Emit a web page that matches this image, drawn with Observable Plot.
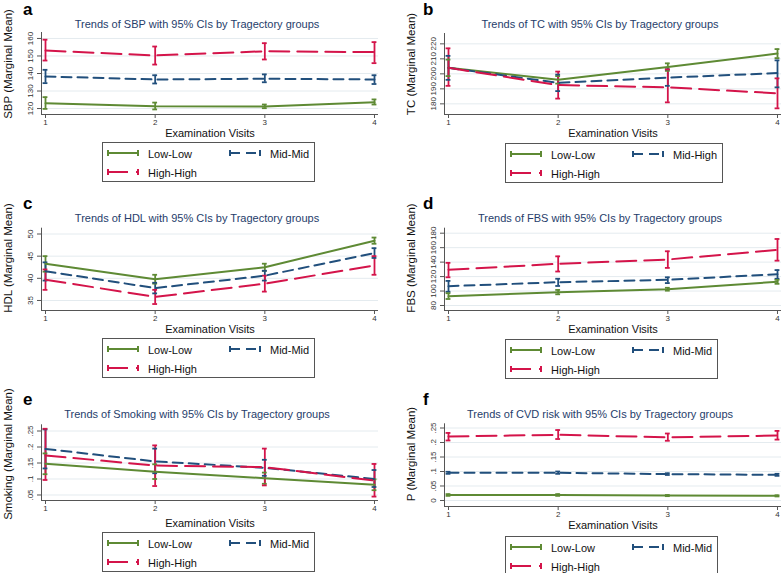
<!DOCTYPE html>
<html><head><meta charset="utf-8">
<script src="https://cdn.jsdelivr.net/npm/d3@7"></script>
<script src="https://cdn.jsdelivr.net/npm/@observablehq/plot@0.6"></script>
<style>
html,body{margin:0;padding:0;background:#fff;}
body{width:782px;height:573px;overflow:hidden;position:relative;font-family:"Liberation Sans",Arial,sans-serif;}
.panel{position:absolute;width:391px;height:196px;}
.panel svg{position:absolute;left:0;top:0;overflow:visible;}
.letter{position:absolute;font-weight:bold;font-size:17px;line-height:16px;color:#000;}
.title{position:absolute;left:0;width:394px;text-align:center;font-size:11px;line-height:14px;color:#263d6b;white-space:nowrap;}
.ylab{position:absolute;font-size:11.5px;line-height:13px;color:#111;white-space:nowrap;transform:translate(-50%,-50%) rotate(-90deg);}
.xlab{position:absolute;width:200px;text-align:center;font-size:11px;line-height:14px;color:#111;white-space:nowrap;}
.legend{position:absolute;border:1px solid #555;box-sizing:border-box;height:40px;background:#fff;}
.legend .g{position:absolute;}
.legend .t{position:absolute;font-size:11px;line-height:14px;color:#111;white-space:nowrap;}
</style>
</head><body>
<script>
// ---------- data ----------
const visits = [1, 2, 3, 4];
const groupsMM = ["Low-Low", "Mid-Mid", "High-High"];
const groupsMH = ["Low-Low", "Mid-High", "High-High"];

// SBP
const sbpMean = [[123.0, 121.3, 121.1, 123.6], [138.3, 136.6, 137.0, 136.6], [153.1, 150.3, 152.7, 152.2]];
const sbpLo   = [[119.8, 119.5, 120.2, 122.3], [134.5, 134.3, 135.0, 134.0], [147.4, 145.1, 148.0, 145.9]];
const sbpHi   = [[126.5, 123.4, 122.3, 125.2], [142.1, 139.0, 139.5, 139.0], [159.3, 155.4, 157.3, 157.9]];
const sbpTicks = [120, 130, 140, 150, 160];

// TC
const tcMean = [[204, 196, 204.5, 213.5], [204, 194, 197.5, 200.5], [204, 192.5, 191, 187]];
const tcLo   = [[198.5, 193.5, 202, 210.5], [196, 188.5, 192, 191], [192, 183.5, 181, 177]];
const tcHi   = [[209.5, 198.5, 207, 216.5], [212, 199.5, 203, 209], [217, 201.5, 203, 197]];
const tcTicks = [180, 190, 200, 210, 220];

// HDL
const hdlMean = [[43.3, 39.8, 42.5, 48.5], [41.6, 37.8, 40.6, 45.7], [39.7, 35.8, 38.8, 42.9]];
const hdlLo   = [[41.5, 38.8, 41.7, 47.8], [39.5, 36.6, 39.5, 44.6], [37.4, 34.2, 37.0, 40.8]];
const hdlHi   = [[45.0, 40.8, 43.3, 49.2], [43.6, 39.0, 41.7, 46.8], [42.0, 37.4, 40.6, 45.0]];
const hdlTicks = [35, 40, 45, 50];

// FBS
const fbsMean = [[92.9, 98.4, 102.6, 112.8], [106.7, 112.2, 115.5, 123.3], [129.4, 137.7, 143.6, 157]];
const fbsLo   = [[89, 95.5, 100.5, 110], [99, 107, 111, 117], [119, 127, 132, 142]];
const fbsHi   = [[97, 101.5, 104.5, 115.5], [114, 117, 119, 129], [139, 148, 155, 172]];
const fbsTicks = [80, 100, 120, 140, 160, 180];

// Smoking
const smkMean = [[0.1475, 0.123, 0.1025, 0.082], [0.194, 0.155, 0.135, 0.100], [0.1735, 0.142, 0.137, 0.095]];
const smkLo   = [[0.115, 0.100, 0.085, 0.065], [0.133, 0.118, 0.110, 0.075], [0.097, 0.078, 0.080, 0.045]];
const smkHi   = [[0.180, 0.146, 0.120, 0.099], [0.255, 0.195, 0.160, 0.128], [0.257, 0.205, 0.195, 0.147]];
const smkTicks = [0.05, 0.1, 0.15, 0.2, 0.25];
const smkTickLabels = [".05", ".1", ".15", ".2", ".25"];

// CVD risk
const cvdMean = [[0.019, 0.019, 0.017, 0.016], [0.0955, 0.0955, 0.091, 0.0885], [0.2207, 0.2265, 0.218, 0.224]];
const cvdLo   = [[0.016, 0.016, 0.015, 0.014], [0.092, 0.092, 0.088, 0.085], [0.207, 0.212, 0.206, 0.210]];
const cvdHi   = [[0.022, 0.022, 0.019, 0.018], [0.099, 0.100, 0.094, 0.092], [0.233, 0.243, 0.231, 0.240]];
const cvdTicks = [0, 0.05, 0.1, 0.15, 0.2, 0.25];
const cvdTickLabels = ["0", ".05", ".1", ".15", ".2", ".25"];

// ---------- styles ----------
const colors = ["#5e8a34", "#214f7c", "#d4144a"];
const dashes = [null, "10,6", "20,8"];
const font = "Liberation Sans, Arial, sans-serif";

const panels = [
  {letter:"a", left:0, top:0, letterX:23, title:"Trends of SBP with 95% CIs by Tragectory groups", ylab:"SBP (Marginal Mean)",
   groups:groupsMM, mean:sbpMean, lo:sbpLo, hi:sbpHi, ticks:sbpTicks, tickLabels:sbpTicks.map(String),
   domain:[116.6, 163.4], plotTop:32, plotBottom:114, xTitleY:133, legendTop:142, legendW:213},
  {letter:"b", left:403, top:0, letterX:20, title:"Trends of TC with 95% CIs by Tragectory groups", ylab:"TC (Marginal Mean)",
   groups:groupsMH, mean:tcMean, lo:tcLo, hi:tcHi, ticks:tcTicks, tickLabels:tcTicks.map(String),
   domain:[172.9, 226.9], plotTop:33, plotBottom:114, xTitleY:133, legendTop:143, legendW:218},
  {letter:"c", left:0, top:194, letterX:23, title:"Trends of HDL with 95% CIs by Tragectory groups", ylab:"HDL (Marginal Mean)",
   groups:groupsMM, mean:hdlMean, lo:hdlLo, hi:hdlHi, ticks:hdlTicks, tickLabels:hdlTicks.map(String),
   domain:[32.74, 51.31], plotTop:33.7, plotBottom:116, xTitleY:135, legendTop:144, legendW:213},
  {letter:"d", left:403, top:194, letterX:20, title:"Trends of FBS with 95% CIs by Tragectory groups", ylab:"FBS (Marginal Mean)",
   groups:groupsMM, mean:fbsMean, lo:fbsLo, hi:fbsHi, ticks:fbsTicks, tickLabels:fbsTicks.map(String),
   domain:[73.08, 186.92], plotTop:33.7, plotBottom:116, xTitleY:135, legendTop:145, legendW:213},
  {letter:"e", left:0, top:390, letterX:23, title:"Trends of Smoking with 95% CIs by Tragectory groups", ylab:"Smoking (Marginal Mean)",
   groups:groupsMM, mean:smkMean, lo:smkLo, hi:smkHi, ticks:smkTicks, tickLabels:smkTickLabels,
   domain:[0.0328, 0.2694], plotTop:34.3, plotBottom:110, xTitleY:133, legendTop:142, legendW:213},
  {letter:"f", left:403, top:390, letterX:20, title:"Trends of CVD risk with 95% CIs by Tragectory groups", ylab:"P (Marginal Mean)",
   groups:groupsMM, mean:cvdMean, lo:cvdLo, hi:cvdHi, ticks:cvdTicks, tickLabels:cvdTickLabels,
   domain:[-0.0207, 0.2645], plotTop:33.3, plotBottom:116, xTitleY:135, legendTop:146, legendW:213}
];

const xDomain = [0.9635, 4.0365];
const capHalf = 0.022;

function glyph(gi) {
  const c = colors[gi];
  const da = dashes[gi] ? ` stroke-dasharray="${dashes[gi]}"` : "";
  return `<svg width="34" height="10" viewBox="0 0 34 10"><line x1="1" y1="5" x2="31" y2="5" stroke="${c}" stroke-width="2"${da}/>` +
    `<line x1="1" y1="2" x2="1" y2="8" stroke="${c}" stroke-width="2"/><line x1="31" y1="2" x2="31" y2="8" stroke="${c}" stroke-width="2"/></svg>`;
}

for (const cfg of panels) {
  const div = document.createElement("div");
  div.className = "panel";
  div.style.left = cfg.left + "px";
  div.style.top = cfg.top + "px";
  document.body.appendChild(div);

  const rows = [];
  cfg.groups.forEach((g, gi) => visits.forEach((v, i) => rows.push({group: g, gi, visit: v, mean: cfg.mean[gi][i], lo: cfg.lo[gi][i], hi: cfg.hi[gi][i]})));

  const svgH = cfg.plotBottom + 18;
  const chart = Plot.plot({
    width: 391, height: svgH,
    marginLeft: 41, marginRight: 13, marginTop: cfg.plotTop, marginBottom: svgH - cfg.plotBottom,
    style: {fontFamily: font, background: "transparent", overflow: "visible"},
    x: {domain: xDomain},
    y: {domain: cfg.domain},
    color: {domain: cfg.groups, range: colors},
    marks: [
      Plot.gridY(cfg.ticks, {stroke: "#e4ebef", strokeOpacity: 1, strokeWidth: 1}),
      Plot.ruleY([cfg.domain[0]], {stroke: "#555", strokeWidth: 1}),
      Plot.ruleX([xDomain[0]], {stroke: "#555", strokeWidth: 1}),
      Plot.axisX({ticks: visits, tickSize: 4, tickPadding: 1, fontSize: 8, stroke: "#555", fill: "#333", label: null, tickFormat: d => String(d)}),
      Plot.axisY({ticks: cfg.ticks, tickSize: 4, stroke: "#555", label: null, tickFormat: () => ""}),
      Plot.text(cfg.ticks, {y: d => d, text: (d, i) => cfg.tickLabels[i], frameAnchor: "left", dx: -11, rotate: -90,
        fontSize: 8, fill: "#333", textAnchor: "middle", lineAnchor: "middle"}),
      Plot.ruleX(rows, {x: "visit", y1: "lo", y2: "hi", stroke: "group", strokeWidth: 1.8}),
      Plot.ruleY(rows, {y: "lo", x1: d => d.visit - capHalf, x2: d => d.visit + capHalf, stroke: "group", strokeWidth: 1.8}),
      Plot.ruleY(rows, {y: "hi", x1: d => d.visit - capHalf, x2: d => d.visit + capHalf, stroke: "group", strokeWidth: 1.8}),
      ...cfg.groups.map((g, gi) => Plot.line(rows.filter(r => r.gi === gi), {x: "visit", y: "mean", stroke: colors[gi], strokeWidth: 2,
        strokeDasharray: dashes[gi] || undefined}))
    ]
  });
  div.appendChild(chart);

  const letter = document.createElement("div");
  letter.className = "letter"; letter.textContent = cfg.letter;
  letter.style.left = cfg.letterX + "px"; letter.style.top = "2px";
  div.appendChild(letter);

  const title = document.createElement("div");
  title.className = "title"; title.textContent = cfg.title; title.style.top = "17px";
  div.appendChild(title);

  const ylab = document.createElement("div");
  ylab.className = "ylab"; ylab.textContent = cfg.ylab;
  ylab.style.left = "8px"; ylab.style.top = "64px";
  div.appendChild(ylab);

  const xlab = document.createElement("div");
  xlab.className = "xlab"; xlab.textContent = "Examination Visits";
  xlab.style.left = (210 - 100) + "px"; xlab.style.top = (cfg.xTitleY - 7) + "px";
  div.appendChild(xlab);

  const leg = document.createElement("div");
  leg.className = "legend";
  leg.style.left = "102px"; leg.style.top = cfg.legendTop + "px"; leg.style.width = cfg.legendW + "px";
  const items = [{gi: 0, x: 4, y: 11}, {gi: 1, x: 126, y: 11}, {gi: 2, x: 4, y: 30}];
  for (const it of items) {
    const g = document.createElement("div");
    g.className = "g"; g.innerHTML = glyph(it.gi);
    g.style.left = it.x + "px"; g.style.top = (it.y - 6) + "px";
    leg.appendChild(g);
    const t = document.createElement("div");
    t.className = "t"; t.textContent = cfg.groups[it.gi];
    t.style.left = (it.x + 41) + "px"; t.style.top = (it.y - 7) + "px";
    leg.appendChild(t);
  }
  div.appendChild(leg);
}
</script>
</body></html>
